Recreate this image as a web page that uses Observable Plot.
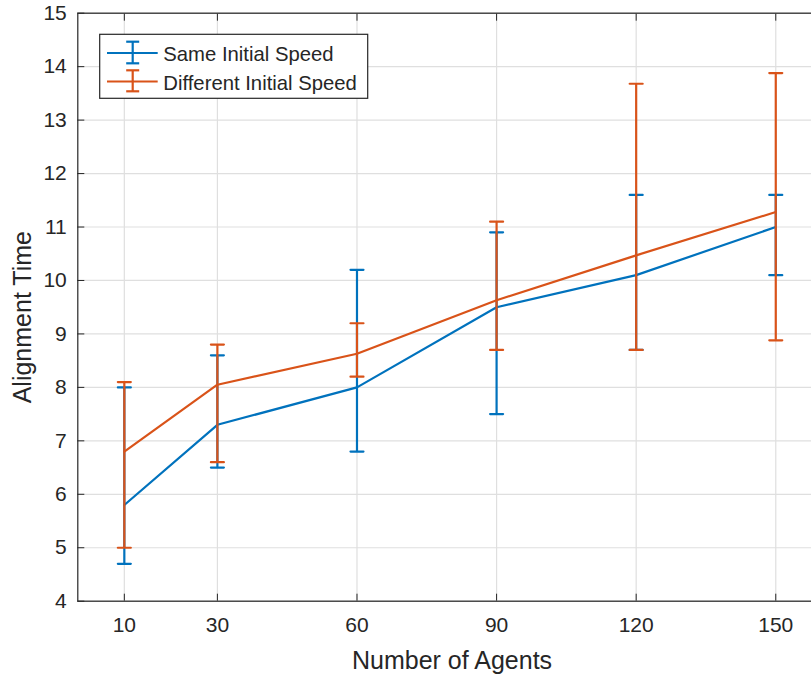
<!DOCTYPE html>
<html>
<head>
<meta charset="utf-8">
<script src="https://cdn.jsdelivr.net/npm/d3@7"></script>
<script src="https://cdn.jsdelivr.net/npm/@observablehq/plot@0.6"></script>
<style>
html, body { margin: 0; padding: 0; background: #fff; overflow: hidden; }
#wrap { position: relative; width: 811px; height: 676px; overflow: hidden; }
#legend { position: absolute; left: 0; top: 0; }
</style>
</head>
<body>
<div id="wrap"></div>
<script>
// ---- data ----
const agents = [10, 30, 60, 90, 120, 150];
const sameMean = [5.8, 7.3, 8.0, 9.5, 10.1, 11.0];
const sameLow  = [4.7, 6.5, 6.8, 7.5, 8.7, 10.1];
const sameHigh = [8.0, 8.6, 10.2, 10.9, 11.6, 11.6];
const diffMean = [6.8, 8.05, 8.63, 9.63, 10.47, 11.28];
const diffLow  = [5.0, 6.6, 8.2, 8.7, 8.7, 8.88];
const diffHigh = [8.1, 8.8, 9.2, 11.1, 13.68, 13.88];
const seriesNames = ["Same Initial Speed", "Different Initial Speed"];
const xTicks = [10, 30, 60, 90, 120, 150];
const yTicks = [4, 5, 6, 7, 8, 9, 10, 11, 12, 13, 14, 15];
const xLabel = "Number of Agents";
const yLabel = "Alignment Time";

const blue = "#0072BD", orange = "#D95319";
const axisColor = "#262626", gridColor = "#dfdfdf";
const font = "'Liberation Sans', Arial, Helvetica, sans-serif";

const sameRows = agents.map((x, i) => ({x, mean: sameMean[i], lo: sameLow[i], hi: sameHigh[i]}));
const diffRows = agents.map((x, i) => ({x, mean: diffMean[i], lo: diffLow[i], hi: diffHigh[i]}));

const capShape = {draw(ctx, l) { ctx.moveTo(0, 0); ctx.lineTo(0, -l); }};
const lw = 2.2;

function seriesMarks(data, color) {
  return [
    Plot.line(data, {x: "x", y: "mean", stroke: color, strokeWidth: lw}),
    Plot.ruleX(data, {x: "x", y1: "lo", y2: "hi", stroke: color, strokeWidth: lw}),
    Plot.vector(data, {x: "x", y: "lo", length: 13, rotate: 90, anchor: "middle", shape: capShape, stroke: color, strokeWidth: lw}),
    Plot.vector(data, {x: "x", y: "hi", length: 13, rotate: 90, anchor: "middle", shape: capShape, stroke: color, strokeWidth: lw})
  ];
}

const chart = Plot.plot({
  width: 811,
  height: 676,
  marginLeft: 77.3,
  marginTop: 12.7,
  marginBottom: 75.3,
  marginRight: -10.8,
  style: {fontFamily: font, fontSize: "21px", color: axisColor, background: "white", overflow: "hidden"},
  x: {domain: [0, 160], ticks: xTicks},
  y: {domain: [4, 15], ticks: yTicks},
  marks: [
    Plot.gridX(xTicks, {stroke: gridColor, strokeOpacity: 1, strokeWidth: 1.2}),
    Plot.gridY(yTicks, {stroke: gridColor, strokeOpacity: 1, strokeWidth: 1.2}),
    ...seriesMarks(sameRows, blue),
    ...seriesMarks(diffRows, orange),
    Plot.frame({stroke: axisColor, strokeWidth: 1.2}),
    Plot.axisX(xTicks, {anchor: "bottom", tickSize: -7, tickFormat: () => "", label: null, stroke: axisColor}),
    Plot.axisX(xTicks, {anchor: "top", tickSize: -7, tickFormat: () => "", label: null, stroke: axisColor}),
    Plot.axisY(yTicks, {anchor: "left", tickSize: -7, tickFormat: () => "", label: null, stroke: axisColor}),
    Plot.axisY(yTicks, {anchor: "right", tickSize: -7, tickFormat: () => "", label: null, stroke: axisColor}),
    Plot.axisX(xTicks, {anchor: "bottom", tickSize: 0, tickPadding: 16, tickFormat: d => String(d), label: null, fill: axisColor}),
    Plot.axisY(yTicks, {anchor: "left", tickSize: 0, tickPadding: 11, tickFormat: d => String(d), label: null, fill: axisColor}),
    Plot.text([xLabel], {frameAnchor: "bottom", text: d => d, dy: 60, dx: 2, lineAnchor: "middle", textAnchor: "middle", fontSize: 25, fill: axisColor}),
    Plot.text([yLabel], {frameAnchor: "left", text: d => d, rotate: -90, dx: -55.3, dy: 10, lineAnchor: "middle", textAnchor: "middle", fontSize: 25, fill: axisColor})
  ]
});

const wrap = document.getElementById("wrap");
wrap.appendChild(chart);

// ---- legend overlay ----
const lg = d3.select(wrap).append("svg")
  .attr("id", "legend")
  .attr("width", 811).attr("height", 676)
  .style("pointer-events", "none");
lg.append("rect")
  .attr("x", 99.7).attr("y", 34.3).attr("width", 268).attr("height", 64)
  .attr("fill", "white").attr("stroke", axisColor).attr("stroke-width", 1.2);
const legendRows = [
  {name: seriesNames[0], color: blue, cy: 53, y1: 41.7, y2: 63.3, base: 61},
  {name: seriesNames[1], color: orange, cy: 81.5, y1: 70.3, y2: 91.3, base: 89.5}
];
legendRows.forEach(r => {
  const g = lg.append("g").attr("stroke", r.color).attr("stroke-width", lw).attr("fill", "none");
  g.append("line").attr("x1", 107).attr("x2", 157.7).attr("y1", r.cy).attr("y2", r.cy);
  g.append("line").attr("x1", 132.7).attr("x2", 132.7).attr("y1", r.y1).attr("y2", r.y2);
  g.append("line").attr("x1", 126.2).attr("x2", 139.2).attr("y1", r.y1).attr("y2", r.y1);
  g.append("line").attr("x1", 126.2).attr("x2", 139.2).attr("y1", r.y2).attr("y2", r.y2);
  lg.append("text").attr("x", 163.3).attr("y", r.base)
    .attr("font-family", font).attr("font-size", 20.3).attr("fill", axisColor)
    .text(r.name);
});
</script>
</body>
</html>
